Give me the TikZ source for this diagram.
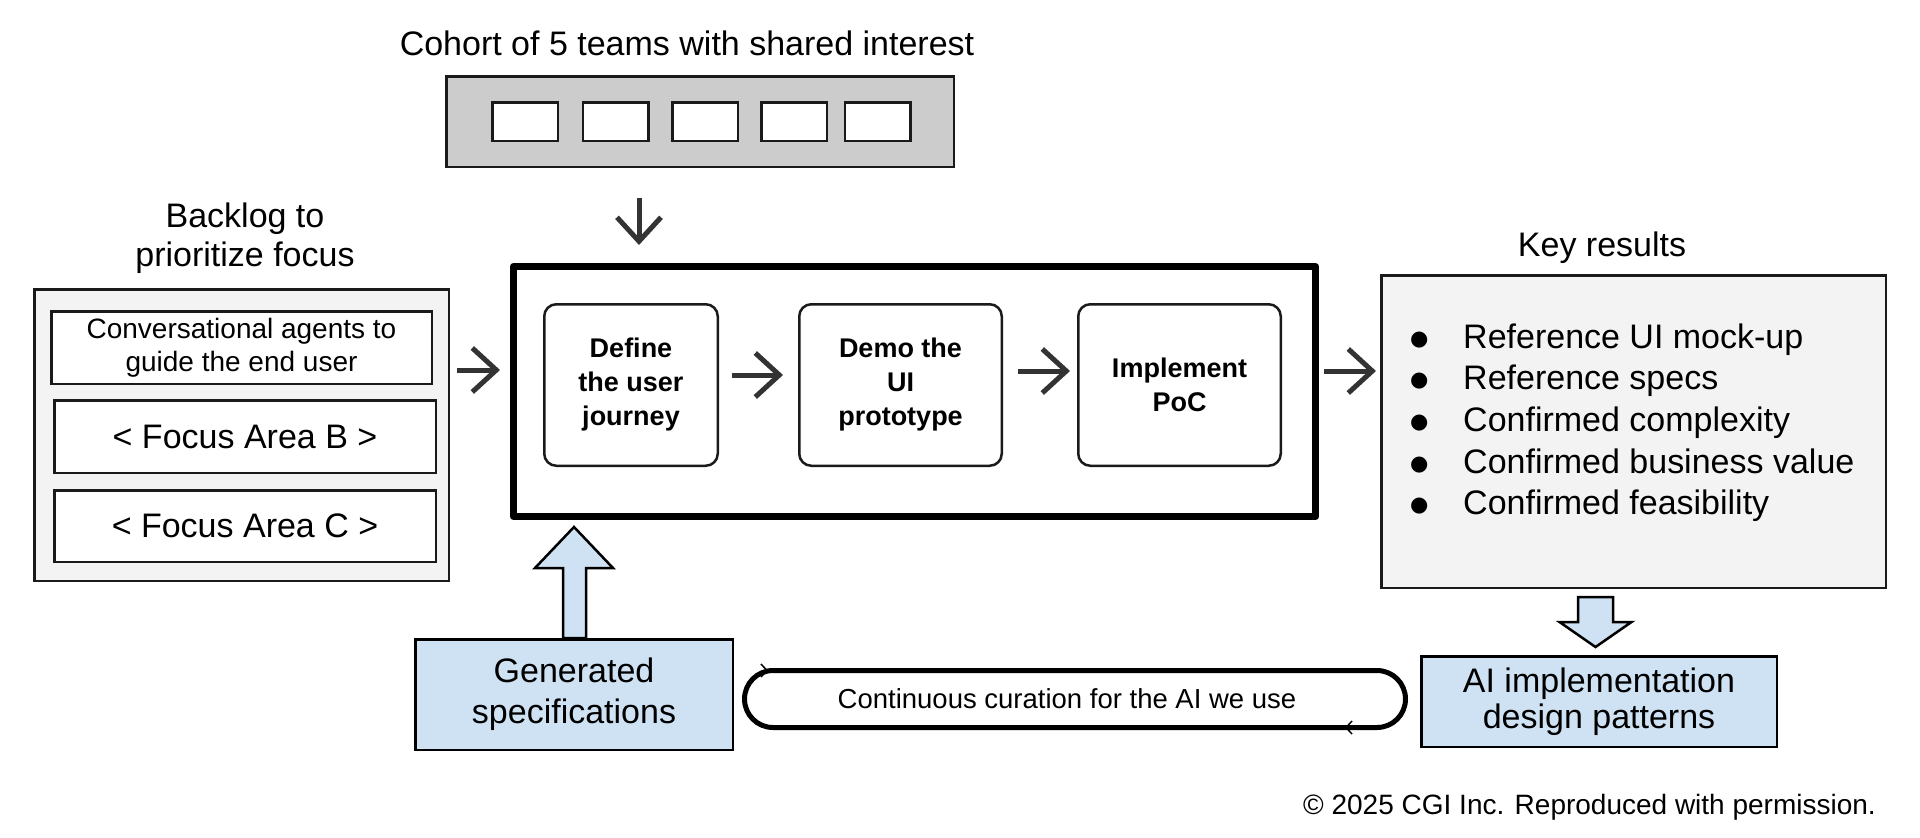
\documentclass[tikz,border=0pt]{standalone}
\usepackage{fontspec}
\setmainfont{Liberation Sans}
\newfontfamily\dejavu{DejaVu Sans}
\usetikzlibrary{arrows.meta,calc}
\definecolor{lblue}{HTML}{CFE2F3}
\definecolor{lgray}{HTML}{F3F3F3}
\definecolor{mgray}{HTML}{CCCCCC}
\definecolor{arrc}{HTML}{333333}
\definecolor{edgec}{HTML}{1A1A1A}
\pgfdeclarelayer{bg}
\pgfsetlayers{bg,main}
\newcommand{\bigbullet}{\makebox[53pt][l]{\raisebox{3pt}{\dejavu\fontsize{21}{25}\selectfont ●}}}
\begin{document}
\begin{tikzpicture}[x=1pt,y=-1pt,
  big/.style={font=\fontsize{34}{39}\selectfont},
  box/.style={draw=edgec, line width=2.5pt, inner sep=0pt, align=center},
  stepbox/.style={box, rounded corners=12pt, font=\bfseries\fontsize{27}{34}\selectfont},
  arr/.style={draw=arrc, line width=5pt, -{Straight Barb[length=24pt,width=44pt]}},
  barrow/.style={fill=lblue, draw=black, line width=2.5pt},
  tick/.style={draw=black, line width=1.5pt},
]
\useasboundingbox (0,0) rectangle (1920,838);

% top cohort
\node[big, anchor=base] (cohorttitle) at (687,55) {Cohort of 5 teams with shared interest};
\node[box, fill=mgray, minimum width=507.5pt, minimum height=90.5pt] (cohort) at (700,121.5) {};
\foreach \cx/\n in {525/t1, 615.5/t2, 705/t3, 794/t4, 877.5/t5}
  \node[box, fill=white, minimum width=65.5pt, minimum height=38.5pt] (\n) at (\cx,121.5) {};

% backlog
\node[big, anchor=base] (bltitle) at (245,266) {\begin{tabular}[b]{@{}c@{}}Backlog to\\prioritize focus\end{tabular}};
\node[box, fill=lgray, minimum width=414.5pt, minimum height=291.5pt] (backlog) at (241.5,435) {};
\node[box, fill=white, minimum width=380.5pt, minimum height=72.5pt, font=\fontsize{28}{33}\selectfont] (fa) at (241.5,347.5) {Conversational agents to\\guide the end user};
\node[box, fill=white, minimum width=381.5pt, minimum height=72.5pt, big] (fb) at (245,436.5) {< Focus Area B >};
\node[box, fill=white, minimum width=381.5pt, minimum height=71.5pt, big] (fc) at (245,526) {< Focus Area C >};

% main process box
\node[draw=black, line width=7pt, line join=round, minimum width=802pt, minimum height=250pt, inner sep=0pt] (main) at (914.5,391.5) {};
\node[stepbox, minimum width=173.5pt, minimum height=161.5pt] (s1) at (631,385) {Define\\the user\\journey};
\node[stepbox, minimum width=202.5pt, minimum height=161.5pt] (s2) at (900.5,385) {Demo the\\UI\\prototype};
\node[stepbox, minimum width=202.5pt, minimum height=161.5pt] (s3) at (1179.5,385) {Implement\\PoC};

% key results
\node[big, anchor=base] (keytitle) at (1602,256) {Key results};
\node[box, fill=lgray, minimum width=504.5pt, minimum height=312.5pt] (key) at (1633.5,431.5) {};
\node[anchor=base west, inner sep=0pt, font=\fontsize{34}{41.7}\selectfont] (keylist) at (1410,348)
  {\begin{tabular}[t]{@{}l@{}}
   \bigbullet Reference UI mock-up\\
   \bigbullet Reference specs\\
   \bigbullet Confirmed complexity\\
   \bigbullet Confirmed business value\\
   \bigbullet Confirmed feasibility
   \end{tabular}};

% bottom boxes
\node[box, fill=lblue, draw=black, minimum width=355.5pt, minimum height=90.5pt, font=\fontsize{34}{36}\selectfont] (ai) at (1599,701.5) {AI implementation\\design patterns};
\node[box, fill=lblue, draw=black, minimum width=317.5pt, minimum height=110.5pt, font=\fontsize{34}{41}\selectfont] (gen) at (574,694.5) {Generated\\specifications};
\node[draw=black, line width=5pt, rounded corners=28.5pt, minimum width=661pt, minimum height=57pt, inner sep=0pt, font=\fontsize{27.5}{33}\selectfont] (loop) at (1075,699) {Continuous curation for the AI we use\hspace*{16pt}};
\draw[tick] ($(loop.north west)+(19,-4)$) -- ++(6,6.5) -- ++(-6,6.5);
\draw[tick] ($(loop.south east)+(-56,-9)$) -- ++(-6,6.5) -- ++(6,6.5);

% copyright
\node[anchor=base east, font=\fontsize{28}{33}\selectfont, inner sep=0pt] (copy) at (1876,814) {© 2025 CGI Inc. Reproduced with permission.};

% connectors
\coordinate (ya) at (0,370);
\coordinate (yb) at (0,375);
\coordinate (yc) at (0,371);
\coordinate (xd) at (639,0);
\draw[arr, shorten <=7pt, shorten >=10pt] (backlog.east |- ya) -- (main.west |- ya);
\draw[arr, shorten <=13pt, shorten >=15pt] (s1.east |- yb) -- (s2.west |- yb);
\draw[arr, shorten <=15pt, shorten >=7pt] (s2.east |- yc) -- (s3.west |- yc);
\draw[arr, shorten <=5pt, shorten >=4pt] (main.east |- yc) -- (key.west |- yc);
\draw[arr, shorten <=30pt, shorten >=18pt] (cohort.south -| xd) -- (main.north -| xd);

% block arrows
\begin{pgfonlayer}{bg}
\fill[white] (0,0) rectangle (1920,838);
\draw[barrow] ($(gen.north)+(-11,0)$) -- ++(0,-70) -- ++(-28,0) -- ++(39,-41) -- ++(39,41) -- ++(-27,0) -- ++(0,70) -- cycle;
\draw[barrow] ($(ai.north)+(-21,-58)$) -- ++(35,0) -- ++(0,25) -- ++(18.5,0) -- ++(-36,25) -- ++(-36,-25) -- ++(18.5,0) -- cycle;
\end{pgfonlayer}
\end{tikzpicture}
\end{document}
